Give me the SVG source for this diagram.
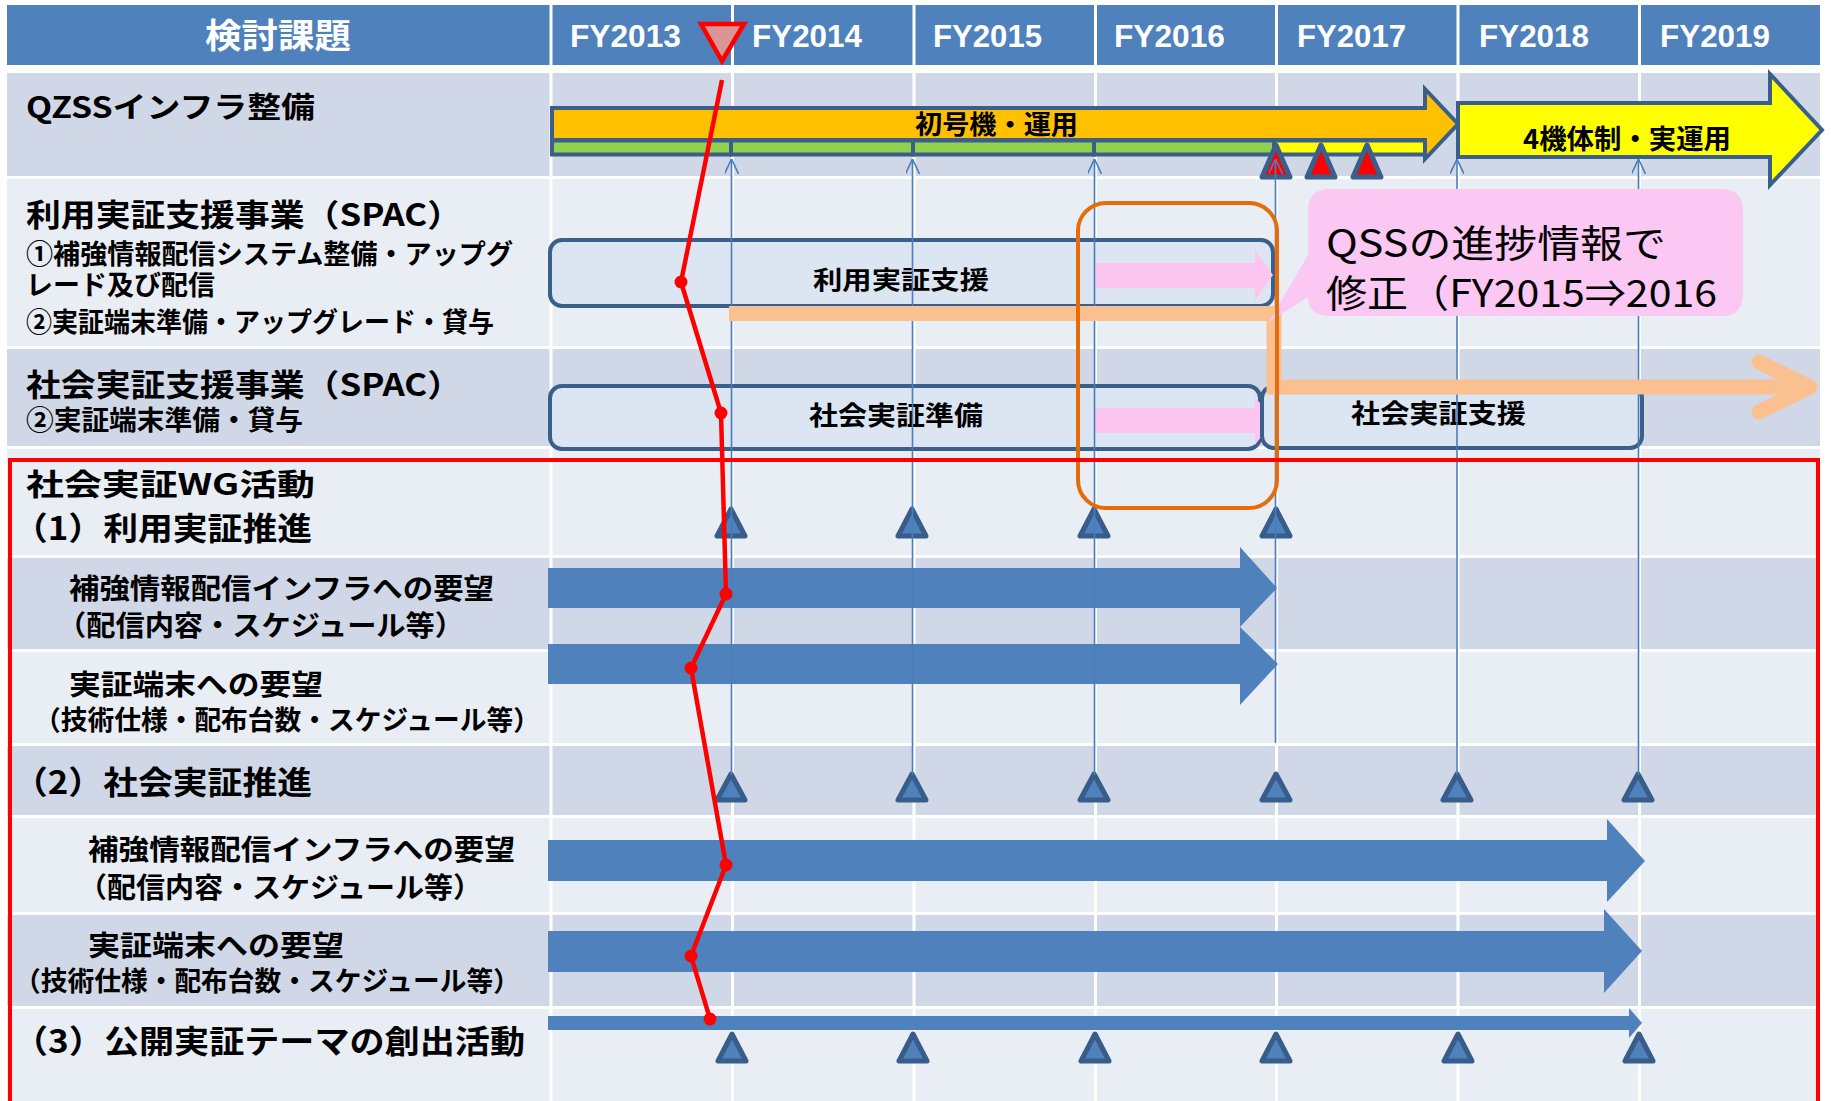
<svg xmlns="http://www.w3.org/2000/svg" width="1831" height="1101" viewBox="0 0 1831 1101">
<style>
text { font-family: 'Noto Sans CJK JP', 'Noto Sans', sans-serif; }
.b { font-weight: 700; fill: #000; }
.hdr { font-weight: 700; fill: #fff; }
.fy { font-family: 'Liberation Sans', 'Noto Sans CJK JP', sans-serif; font-weight: 700; fill: #fff; font-size: 31px; }
.dark { fill: #D0D8E8; }
.light { fill: #E9EDF4; }
.grid { stroke: #fff; stroke-width: 3; }
.vline { stroke: #4A7EBB; stroke-width: 1.6; fill: none; marker-start: url(#open); }
.box { fill: #DCE6F2; stroke: #3A5F8B; stroke-width: 4; }
.pink { fill: #FBC5F0; }
.blue { fill: #4F81BD; }
.mile { fill: #4F81BD; stroke: #385D8A; stroke-width: 5; stroke-linejoin: round; }
.redtri { fill: #FF0000; stroke: #3A5F8B; stroke-width: 5; stroke-linejoin: round; }
.bar { stroke: #3A5F8B; stroke-width: 4; }
.dot { fill: #FF0000; }
</style>
<defs>
<marker id="open" viewBox="0 0 15 14" refX="15" refY="7" markerWidth="15" markerHeight="14" markerUnits="userSpaceOnUse" orient="auto-start-reverse">
<path d="M0,0 L15,7 L0,14" fill="none" stroke="#4A7EBB" stroke-width="1.6"/>
</marker>
</defs>
<rect x="0" y="0" width="1831" height="1101" fill="#fff"/>

<g id="table">
<rect x="7" y="5" width="1813" height="60" fill="#4F81BD"/>
<rect class="dark" x="7" y="73" width="1813" height="103"/>
<rect class="light" x="7" y="179" width="1813" height="167"/>
<rect class="dark" x="7" y="349" width="1813" height="97"/>
<rect class="light" x="7" y="449" width="1813" height="106"/>
<rect class="dark" x="7" y="558" width="1813" height="91"/>
<rect class="light" x="7" y="652" width="1813" height="91"/>
<rect class="dark" x="7" y="746" width="1813" height="69"/>
<rect class="light" x="7" y="818" width="1813" height="94"/>
<rect class="dark" x="7" y="915" width="1813" height="91"/>
<rect class="light" x="7" y="1009" width="1813" height="92"/>
<g class="grid">
<line x1="551" y1="0" x2="551" y2="1101"/>
<line x1="732.5" y1="0" x2="732.5" y2="1101"/>
<line x1="914" y1="0" x2="914" y2="1101"/>
<line x1="1095.5" y1="0" x2="1095.5" y2="1101"/>
<line x1="1276.5" y1="0" x2="1276.5" y2="1101"/>
<line x1="1458" y1="0" x2="1458" y2="1101"/>
<line x1="1639.5" y1="0" x2="1639.5" y2="1101"/>
</g>
<text class="hdr" x="205" y="48" font-size="34" textLength="146" lengthAdjust="spacingAndGlyphs">検討課題</text>
<text class="fy" x="570" y="47" textLength="111" lengthAdjust="spacingAndGlyphs">FY2013</text>
<text class="fy" x="752" y="47" textLength="110" lengthAdjust="spacingAndGlyphs">FY2014</text>
<text class="fy" x="933" y="47" textLength="109" lengthAdjust="spacingAndGlyphs">FY2015</text>
<text class="fy" x="1114" y="47" textLength="111" lengthAdjust="spacingAndGlyphs">FY2016</text>
<text class="fy" x="1297" y="47" textLength="109" lengthAdjust="spacingAndGlyphs">FY2017</text>
<text class="fy" x="1479" y="47" textLength="110" lengthAdjust="spacingAndGlyphs">FY2018</text>
<text class="fy" x="1660" y="47" textLength="110" lengthAdjust="spacingAndGlyphs">FY2019</text>
</g>

<g id="row-labels">
<text class="b" x="26" y="118" font-size="29" textLength="289" lengthAdjust="spacingAndGlyphs">QZSSインフラ整備</text>
<text class="b" x="26" y="226" font-size="31" textLength="436" lengthAdjust="spacingAndGlyphs">利用実証支援事業（SPAC）</text>
<text class="b" x="26" y="264" font-size="27" textLength="487" lengthAdjust="spacingAndGlyphs">①補強情報配信システム整備・アップグ</text>
<text class="b" x="26" y="295" font-size="27" textLength="189" lengthAdjust="spacingAndGlyphs">レード及び配信</text>
<text class="b" x="26" y="332" font-size="27" textLength="468" lengthAdjust="spacingAndGlyphs">②実証端末準備・アップグレード・貸与</text>
<text class="b" x="26" y="396" font-size="31" textLength="436" lengthAdjust="spacingAndGlyphs">社会実証支援事業（SPAC）</text>
<text class="b" x="26" y="430" font-size="27" textLength="277" lengthAdjust="spacingAndGlyphs">②実証端末準備・貸与</text>
<text class="b" x="26" y="495" font-size="30" textLength="289" lengthAdjust="spacingAndGlyphs">社会実証WG活動</text>
<text class="b" x="13" y="540" font-size="32" textLength="299" lengthAdjust="spacingAndGlyphs">（1）利用実証推進</text>
<text class="b" x="69" y="599" font-size="28" textLength="425" lengthAdjust="spacingAndGlyphs">補強情報配信インフラへの要望</text>
<text class="b" x="57" y="636" font-size="28" textLength="407" lengthAdjust="spacingAndGlyphs">（配信内容・スケジュール等）</text>
<text class="b" x="69" y="695" font-size="28" textLength="254" lengthAdjust="spacingAndGlyphs">実証端末への要望</text>
<text class="b" x="34" y="730" font-size="27" textLength="506" lengthAdjust="spacingAndGlyphs">（技術仕様・配布台数・スケジュール等）</text>
<text class="b" x="13" y="794" font-size="32" textLength="299" lengthAdjust="spacingAndGlyphs">（2）社会実証推進</text>
<text class="b" x="88" y="860" font-size="28" textLength="427" lengthAdjust="spacingAndGlyphs">補強情報配信インフラへの要望</text>
<text class="b" x="78" y="898" font-size="28" textLength="404" lengthAdjust="spacingAndGlyphs">（配信内容・スケジュール等）</text>
<text class="b" x="88" y="956" font-size="28" textLength="256" lengthAdjust="spacingAndGlyphs">実証端末への要望</text>
<text class="b" x="14" y="991" font-size="27" textLength="506" lengthAdjust="spacingAndGlyphs">（技術仕様・配布台数・スケジュール等）</text>
<text class="b" x="13" y="1053" font-size="32" textLength="512" lengthAdjust="spacingAndGlyphs">（3）公開実証テーマの創出活動</text>
</g>

<g id="qzss">
<polygon points="552,108 1425,108 1425,89 1458,124 1425,159 1425,140 552,140" fill="#FFC000" stroke="#3A5F8B" stroke-width="4" stroke-linejoin="miter"/>
<rect class="bar" x="552" y="140.5" width="179" height="14" fill="#92D050"/>
<rect class="bar" x="731" y="140.5" width="182" height="14" fill="#92D050"/>
<rect class="bar" x="913" y="140.5" width="181" height="14" fill="#92D050"/>
<rect class="bar" x="1094" y="140.5" width="180" height="14" fill="#92D050"/>
<rect class="bar" x="1274" y="140.5" width="151" height="14" fill="#FFFF00"/>
<text class="b" x="915" y="134" font-size="26" textLength="163" lengthAdjust="spacingAndGlyphs">初号機・運用</text>
<polygon points="1458,103 1770,103 1770,74 1822,130 1770,185 1770,157 1458,157" fill="#FFFF00" stroke="#3A5F8B" stroke-width="4"/>
<text class="b" x="1523" y="149" font-size="27" textLength="208" lengthAdjust="spacingAndGlyphs">4機体制・実運用</text>
<polygon class="redtri" points="1276,145 1262,177 1290,177"/>
<polygon class="redtri" points="1321,145 1307,177 1335,177"/>
<polygon class="redtri" points="1367,145 1353,177 1381,177"/>
</g>

<g id="spac-use">
<rect class="box" x="550" y="240" width="723" height="66" rx="12"/>
<text class="b" x="813" y="289" font-size="25" textLength="176" lengthAdjust="spacingAndGlyphs">利用実証支援</text>
<polygon class="pink" points="1096,263 1255,263 1255,250 1273,275 1255,300 1255,288 1096,288"/>
</g>

<g id="spac-social">
<rect class="box" x="550" y="386" width="710" height="63" rx="12"/>
<text class="b" x="809" y="425" font-size="26" textLength="174" lengthAdjust="spacingAndGlyphs">社会実証準備</text>
<polygon class="pink" points="1095,408 1255,408 1255,397 1274,420 1255,445 1255,433 1095,433"/>
<rect class="box" x="1262" y="386" width="380" height="62" rx="12"/>
<text class="b" x="1351" y="423" font-size="26" textLength="175" lengthAdjust="spacingAndGlyphs">社会実証支援</text>
</g>

<g id="wg-arrows">
<polygon class="blue" points="548,568 1240,568 1240,547 1277,588 1240,627 1240,608 548,608"/>
<polygon class="blue" points="548,644 1240,644 1240,627 1278,664 1240,705 1240,684 548,684"/>
<polygon class="blue" points="548,840 1607,840 1607,819 1645,861 1607,902 1607,881 548,881"/>
<polygon class="blue" points="548,931 1604,931 1604,909 1642,951 1604,993 1604,972 548,972"/>
<polygon class="blue" points="548,1016 1629,1016 1629,1008 1642,1023 1629,1038 1629,1030 548,1030"/>
</g>

<g id="milestones">
<polygon class="mile" points="731,509 717,536 745,536"/>
<polygon class="mile" points="912,509 898,536 926,536"/>
<polygon class="mile" points="1094,509 1080,536 1108,536"/>
<polygon class="mile" points="1276,509 1262,536 1290,536"/>
<polygon class="mile" points="731,774 717,800 745,800"/>
<polygon class="mile" points="912,774 898,800 926,800"/>
<polygon class="mile" points="1094,774 1080,800 1108,800"/>
<polygon class="mile" points="1276,774 1262,800 1290,800"/>
<polygon class="mile" points="1457,774 1443,800 1471,800"/>
<polygon class="mile" points="1638,774 1624,800 1652,800"/>
<polygon class="mile" points="732,1034 718,1061 746,1061"/>
<polygon class="mile" points="913,1034 899,1061 927,1061"/>
<polygon class="mile" points="1095,1034 1081,1061 1109,1061"/>
<polygon class="mile" points="1276,1034 1262,1061 1290,1061"/>
<polygon class="mile" points="1458,1034 1444,1061 1472,1061"/>
<polygon class="mile" points="1639,1034 1625,1061 1653,1061"/>
</g>

<g id="connectors">
<line class="vline" x1="731.5" y1="159" x2="731.5" y2="775"/>
<line class="vline" x1="912.5" y1="159" x2="912.5" y2="775"/>
<line class="vline" x1="1094.5" y1="159" x2="1094.5" y2="775"/>
<line class="vline" x1="1275.5" y1="159" x2="1275.5" y2="743"/>
<line class="vline" x1="1457" y1="159" x2="1457" y2="775"/>
<line class="vline" x1="1638.5" y1="159" x2="1638.5" y2="775"/>
<path d="M729,313.5 H1274 V387 H1811" fill="none" stroke="#FAC090" stroke-width="15" stroke-linejoin="miter"/>
<path d="M1759,362 L1810,387 L1759,412" fill="none" stroke="#FAC090" stroke-width="15" stroke-linecap="round" stroke-linejoin="round"/>
</g>

<g id="callout">
<path d="M1330,189 H1721 Q1743,189 1743,211 V294 Q1743,316 1721,316 H1330 Q1308,316 1308,297 L1269,322 L1308,255 V211 Q1308,189 1330,189 Z" fill="#FBC7F3"/>
<text x="1326" y="257" font-size="38" fill="#000" textLength="340" lengthAdjust="spacingAndGlyphs">QSSの進捗情報で</text>
<text x="1326" y="307" font-size="38" fill="#000" textLength="391" lengthAdjust="spacingAndGlyphs">修正（FY2015⇒2016</text>
</g>

<g id="highlight">
<rect x="1078" y="203" width="199" height="305" rx="28" fill="none" stroke="#E46C0A" stroke-width="4"/>
</g>

<g id="wg-frame">
<rect x="10" y="460" width="1808" height="660" fill="none" stroke="#FF0000" stroke-width="4"/>
</g>

<g id="progress">
<polygon points="701,24 744,24 722,61" fill="#D99694" stroke="#FF0000" stroke-width="4.5" stroke-linejoin="miter"/>
<polyline points="722,80 681,282 721,413 726,594 691,668 726,865 691,956 710,1019" fill="none" stroke="#FF0000" stroke-width="4.5" stroke-linejoin="round"/>
<circle class="dot" cx="681" cy="282" r="6.5"/>
<circle class="dot" cx="721" cy="413" r="6.5"/>
<circle class="dot" cx="726" cy="594" r="6.5"/>
<circle class="dot" cx="691" cy="668" r="6.5"/>
<circle class="dot" cx="726" cy="865" r="6.5"/>
<circle class="dot" cx="691" cy="956" r="6.5"/>
<circle class="dot" cx="710" cy="1019" r="6.5"/>
</g>
</svg>
